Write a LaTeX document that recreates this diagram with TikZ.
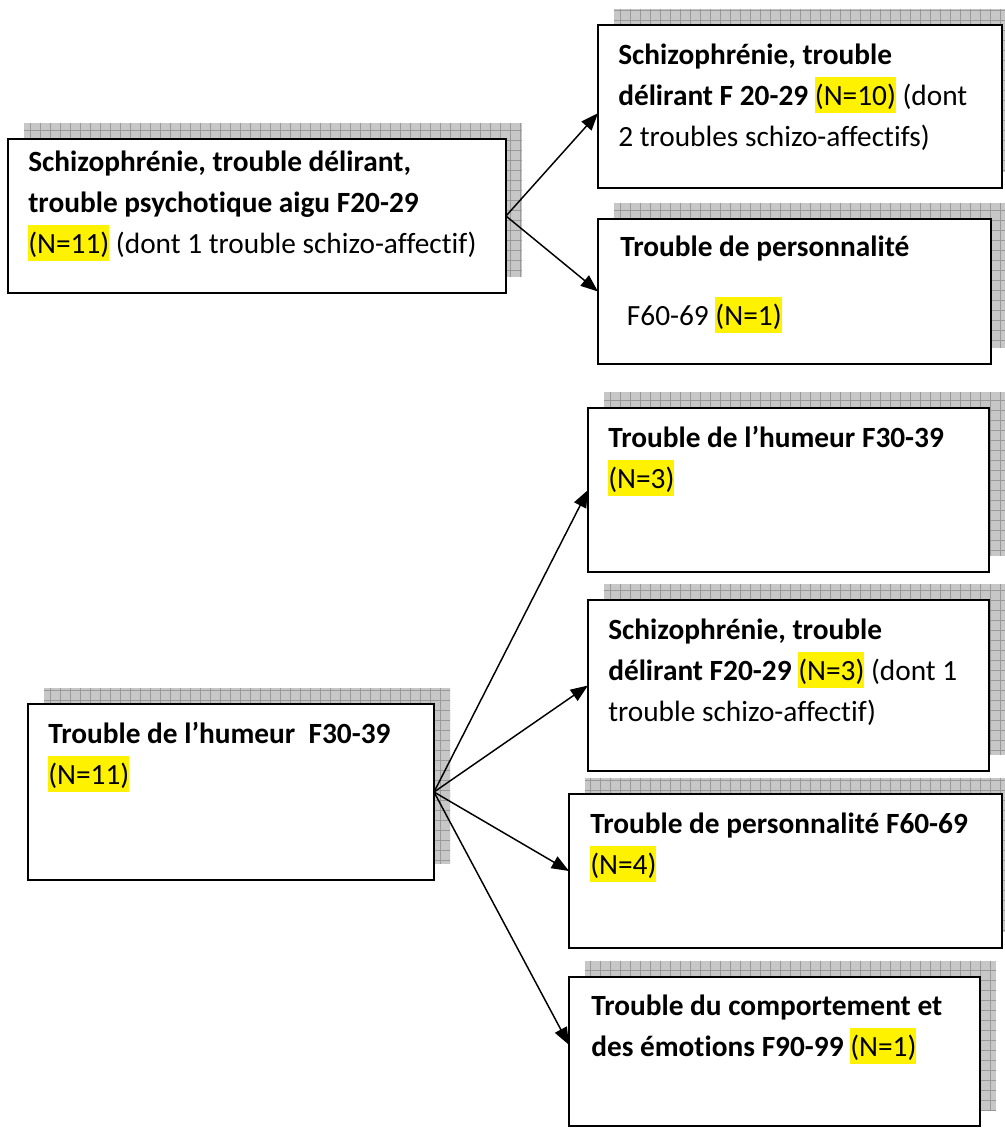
\documentclass[tikz,border=0pt]{standalone}
\usepackage{fontspec}
\setmainfont{Carlito}[Ligatures=NoCommon]
\usetikzlibrary{arrows.meta}
\newcommand\hlt[1]{{\setlength{\fboxsep}{0pt}\colorbox{yellow}{\rule[-0.269em]{0pt}{1.221em}#1}}}
\newcommand\shadowrect[4]{%
  \begin{scope}
    \clip (#1+16,#2-16) rectangle (#3+16,#4-16);
    \fill[shadowfill] (#1+16,#2-16) rectangle (#3+16,#4-16);
    \draw[shadowgrid,step=7.5pt] (#1+16,#2-16) grid (#3+16,#4-16);
  \end{scope}}
\newcommand\diagbox[5]{%
  \shadowrect{#2}{#3}{#4}{#5}
  \node[box,minimum width={(#4-#2)*0.75pt},minimum height={(#5-#3)*0.75pt}] (#1) at (#2,#3) {};}
\begin{document}
\begin{tikzpicture}[x=0.75pt,y=-0.75pt,
  box/.style={draw=black,fill=white,line width=1.5pt,inner sep=0pt,outer sep=0pt,anchor=north west},
  txt/.style={anchor=base west,align=left,inner sep=0pt,font=\fontsize{22pt}{30.75pt}\selectfont},
  arr/.style={line width=1.1pt,-{Triangle[length=13pt,width=10pt]}},
  shadowfill/.style={fill=black!22},
  shadowgrid/.style={draw=black!40,line width=0.45pt}]
\useasboundingbox (0,0) rectangle (1005,1128);
\clip (0,0) rectangle (1005,1128);
\fill[white] (0,0) rectangle (1005,1128);

\diagbox{A}{8}{139}{506}{293}
\diagbox{B}{598}{25}{1002}{188}
\diagbox{C}{598}{219}{991}{364}
\diagbox{D}{588}{408}{989}{572}
\diagbox{E}{588}{600}{989}{771}
\diagbox{F}{569}{794}{1002}{948}
\diagbox{G}{569}{977}{980}{1126}
\diagbox{H}{28}{704}{434}{880}

\node[txt] (tA) at (28,253) {\textbf{Schizophrénie, trouble délirant,}\\ \textbf{trouble psychotique aigu F20-29}\\ \hlt{(N=11)} (dont 1 trouble schizo-affectif)};
\node[txt] (tB) at (618,146) {\textbf{Schizophrénie, trouble}\\ \textbf{délirant F 20-29} \hlt{(N=10)} (dont\\ 2 troubles schizo-affectifs)};
\node[txt] (tC) at (620,325) {\textbf{Trouble de personnalité}\\[21pt] \hspace*{5pt}F60-69 \hlt{(N=1)}};
\node[txt] (tD) at (608,488) {\textbf{Trouble de l’humeur F30-39}\\ \hlt{(N=3)}};
\node[txt] (tE) at (608,721) {\textbf{Schizophrénie, trouble}\\ \textbf{délirant F20-29} \hlt{(N=3)} (dont 1\\ trouble schizo-affectif)};
\node[txt] (tF) at (590,874) {\textbf{Trouble de personnalité F60-69}\\ \hlt{(N=4)}};
\node[txt] (tG) at (591,1056) {\textbf{Trouble du comportement et}\\ \textbf{des émotions F90-99} \hlt{(N=1)}};
\node[txt] (tH) at (48,784) {\textbf{Trouble de l’humeur\ \ F30-39}\\ \hlt{(N=11)}};

\draw[arr] (A.east) -- ([yshift=-5pt]B.west);
\draw[arr] (A.east) -- (C.west);
\draw[arr] (H.east) -- (D.west);
\draw[arr] (H.east) -- (E.west);
\draw[arr] (H.east) -- (F.west);
\draw[arr] (H.east) -- ([yshift=5pt]G.west);
\end{tikzpicture}
\end{document}
